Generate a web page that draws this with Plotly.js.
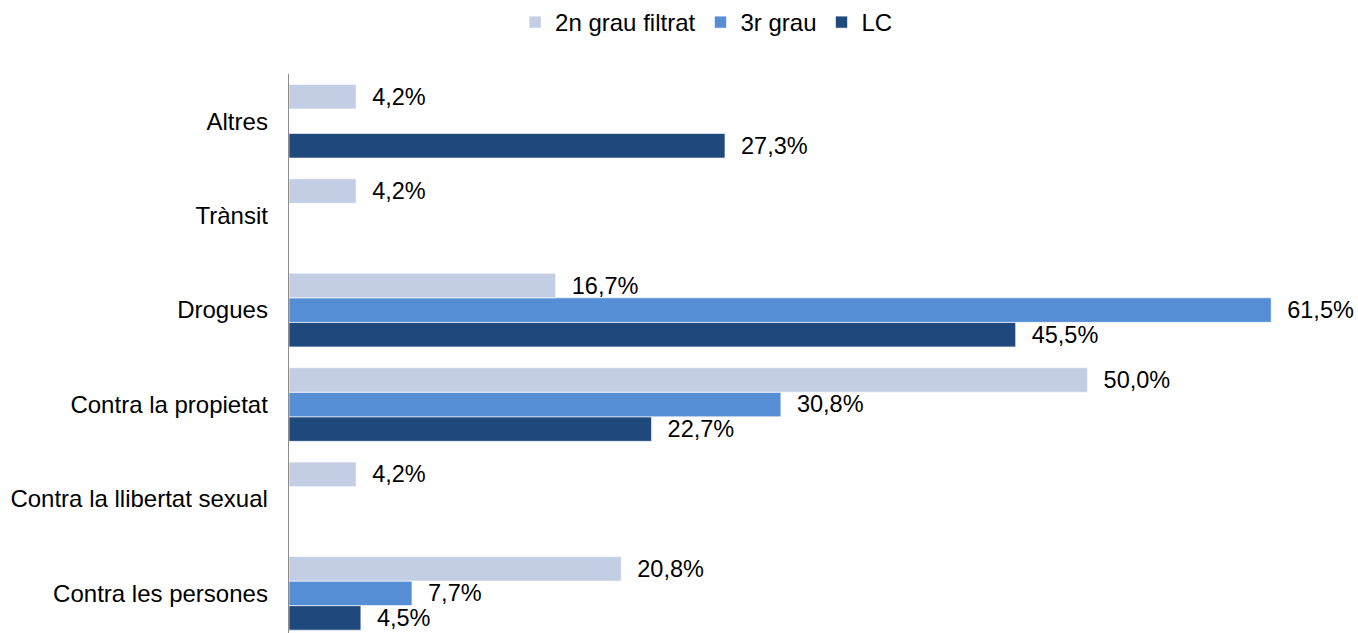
<!DOCTYPE html>
<html>
<head>
<meta charset="utf-8">
<script src="https://cdn.plot.ly/plotly-3.0.1.min.js"></script>
<style>html,body{margin:0;padding:0;background:#fff;}#chart{width:1358px;height:633px;}</style>
</head>
<body>
<div id="chart"></div>
<script>
const categories = ["Contra les persones", "Contra la llibertat sexual", "Contra la propietat", "Drogues", "Trànsit", "Altres"];
const seriesNames = ["2n grau filtrat", "3r grau", "LC"];
const segonGrauFiltrat = [20.8, 4.2, 50.0, 16.7, 4.2, 4.2];
const tercerGrau = [7.7, null, 30.8, 61.5, null, null];
const lc = [4.5, null, 22.7, 45.5, null, 27.3];

const colors = {"2n grau filtrat": "#C3CDE3", "3r grau": "#558ED5", "LC": "#1F497D"};
const values = {"2n grau filtrat": segonGrauFiltrat, "3r grau": tercerGrau, "LC": lc};
const FONT = "Liberation Sans, Arial, sans-serif";

// draw order: LC bottom of group, 2n grau filtrat on top
const traces = seriesNames.slice().reverse().map(name => ({
  type: "bar",
  orientation: "h",
  name: name,
  y: categories,
  x: values[name],
  marker: {color: colors[name], line: {color: "#ffffff", width: 0.6}},
  texttemplate: "\u00a0\u00a0%{x:.1f}%",
  textposition: "outside",
  constraintext: "none",
  cliponaxis: false,
  textfont: {family: FONT, size: 23.5, color: "#000"},
  hoverinfo: "x+y"
}));

const layout = {
  width: 1358,
  height: 633,
  margin: {l: 289, r: 68, t: 74, b: 0, pad: 0},
  paper_bgcolor: "#fff",
  plot_bgcolor: "#fff",
  separators: ",.",
  barmode: "group",
  bargap: 0.22,
  bargroupgap: 0,
  font: {family: FONT, size: 24, color: "#000"},
  showlegend: true,
  legend: {
    orientation: "h",
    traceorder: "reversed",
    x: 0.5203, xref: "container", xanchor: "center",
    y: 1, yref: "container", yanchor: "top",
    font: {family: FONT, size: 24, color: "#000"},
    itemwidth: 30
  },
  xaxis: {
    range: [0, 62.68],
    showgrid: false, zeroline: false, showticklabels: false, showline: false, ticks: ""
  },
  yaxis: {
    type: "category",
    range: [-0.42, 5.5],
    showgrid: false, zeroline: false,
    showline: true, linecolor: "#8c8c8c", linewidth: 1.3,
    ticks: "",
    ticklabelstandoff: 15,
    tickfont: {family: FONT, size: 24, color: "#000"}
  }
};

Plotly.newPlot("chart", traces, layout, {displayModeBar: false, staticPlot: true});
</script>
</body>
</html>
